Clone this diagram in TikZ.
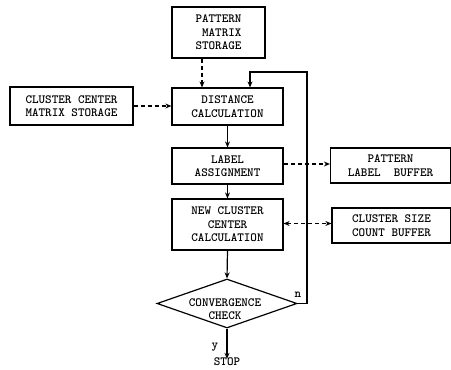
\documentclass[tikz,border=0pt]{standalone}
\usetikzlibrary{shapes.geometric,arrows.meta}
\begin{document}
\begin{tikzpicture}[x=1pt,y=-1pt,
  every node/.style={font=\ttfamily\bfseries\fontsize{12.5}{13.5}\selectfont},
  box/.style={draw,line width=1.2pt,inner sep=0pt,align=center},
  arr/.style={-{Stealth[length=6pt,width=5pt]}},
  ln/.style={line width=1.2pt},
  dsh/.style={line width=1.2pt,dash pattern=on 4pt off 3pt}]
\useasboundingbox (0,0) rectangle (451,370);
\node[box,minimum width=93pt,minimum height=51pt] (pat) at (218.5,32.5) {PATTERN\\\ MATRIX\\STORAGE};
\node[box,minimum width=111pt,minimum height=37pt] (dist) at (227.5,106.5) {DISTANCE\\CALCULATION};
\node[box,minimum width=123pt,minimum height=38pt] (clus) at (71.5,106) {CLUSTER CENTER\\MATRIX STORAGE};
\node[box,minimum width=111pt,minimum height=36pt] (lab) at (227.5,166) {LABEL\\ASSIGNMENT};
\node[box,minimum width=120pt,minimum height=35pt] (plb) at (390.5,165.5) {PATTERN\\LABEL\ \ BUFFER};
\node[box,minimum width=111pt,minimum height=51pt] (ncc) at (227.5,224.5) {NEW CLUSTER\\CENTER\\CALCULATION};
\node[box,minimum width=119pt,minimum height=35pt] (csb) at (391.5,225.5) {CLUSTER SIZE\\COUNT BUFFER};
\node[draw,line width=1.2pt,diamond,aspect=2.86,minimum width=140pt,minimum height=49pt,inner sep=0pt] (conv) at (227,303.5) {};
\node[align=center,inner sep=0pt] (convt) at (225,309) {CONVERGENCE\\CHECK};
\node[inner sep=0pt] (stop) at (227,362) {STOP};
\node[inner sep=0pt] (nlab) at (298,295) {n};
\node[inner sep=0pt] (ylab) at (215,347) {y};
\coordinate (pa) at (202,0);
\coordinate (fb) at (307,72);
\coordinate (fa) at (250,72);
\coordinate (ly) at (0,164);
\coordinate (ny) at (0,223.5);
\draw[dsh,arr] (pat.south -| pa) -- (dist.north -| pa);
\draw[dsh,arr] (clus.east) -- (clus.east -| dist.west);
\draw[ln,arr] (dist.south) -- (lab.north);
\draw[dsh,arr] (lab.east |- ly) -- (plb.west |- ly);
\draw[ln,arr] (lab.south) -- (ncc.north);
\draw[dsh,{Stealth[length=6pt,width=5pt]}-{Stealth[length=6pt,width=5pt]}] (ncc.east |- ny) -- (csb.west |- ny);
\draw[ln,arr] (ncc.south) -- (conv.north);
\draw[ln,arr] (conv.east) -| (fb) -- (fa) -- (dist.north -| fa);
\draw[ln,arr] (conv.south) -- ([yshift=-1pt]stop.north);
\end{tikzpicture}
\end{document}
